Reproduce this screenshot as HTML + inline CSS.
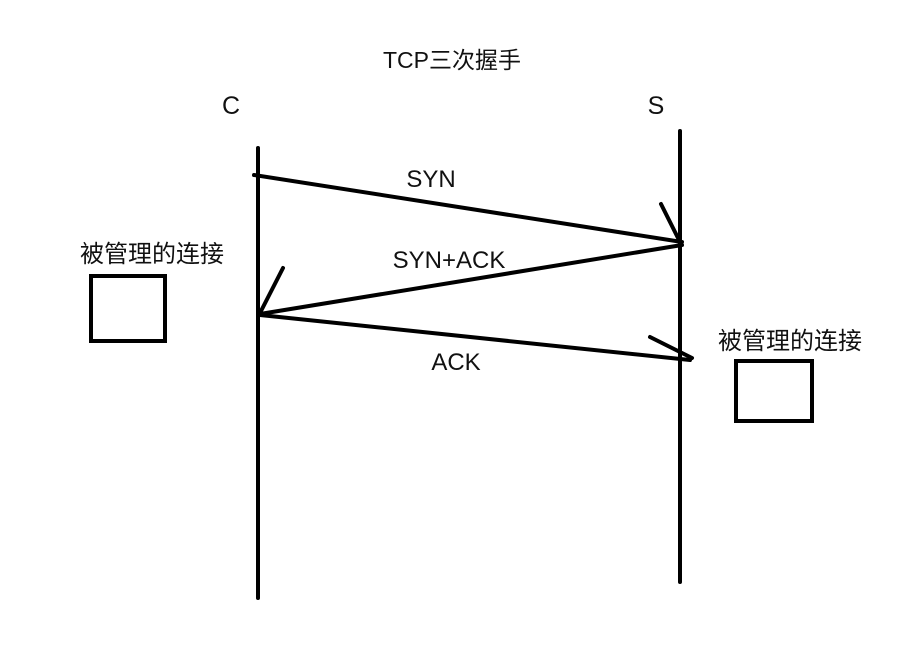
<!DOCTYPE html>
<html><head><meta charset="utf-8"><style>
body{margin:0;background:#fff;}
svg text{font-family:"Liberation Sans","Noto Sans CJK SC",sans-serif;fill:#111;}
</style></head><body>
<svg width="914" height="645" viewBox="0 0 914 645" xmlns="http://www.w3.org/2000/svg">
<rect width="914" height="645" fill="#fff"/>
<text x="452" y="68" font-size="23" text-anchor="middle">TCP三次握手</text>
<text x="231" y="114" font-size="25" text-anchor="middle">C</text>
<text x="656" y="114" font-size="25" text-anchor="middle">S</text>
<g stroke="#000" stroke-width="4" stroke-linecap="round" fill="none">
<line x1="258" y1="148" x2="258" y2="598"/>
<line x1="680" y1="131" x2="680" y2="582"/>
<line x1="254" y1="175" x2="682" y2="242"/>
<line x1="661" y1="204" x2="680" y2="242"/>
<line x1="682" y1="245" x2="260" y2="314"/>
<line x1="283" y1="268" x2="260" y2="313"/>
<line x1="260" y1="315" x2="690" y2="360"/>
<line x1="650" y1="337" x2="692" y2="358"/>
<rect x="91" y="276" width="74" height="65"/>
<rect x="736" y="361" width="76" height="60"/>
</g>
<text x="431" y="187" font-size="24" text-anchor="middle">SYN</text>
<text x="449" y="268" font-size="24" text-anchor="middle">SYN+ACK</text>
<text x="456" y="370" font-size="24" text-anchor="middle">ACK</text>
<text x="152" y="262" font-size="24" text-anchor="middle">被管理的连接</text>
<text x="790" y="349" font-size="24" text-anchor="middle">被管理的连接</text>
</svg>
</body></html>
